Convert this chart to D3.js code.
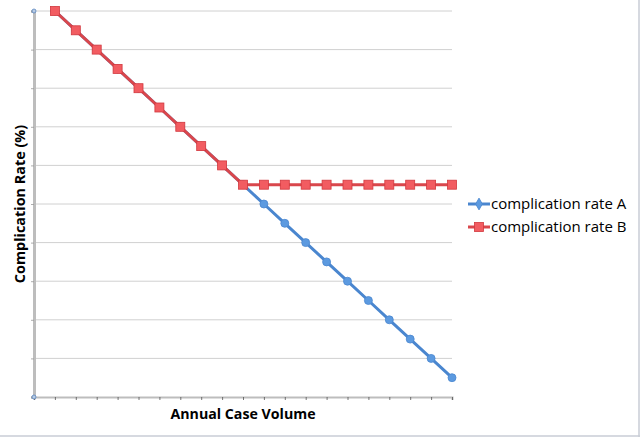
<!DOCTYPE html>
<html><head><meta charset="utf-8">
<script src="https://cdn.jsdelivr.net/npm/d3@7"></script>
<style>html,body{margin:0;padding:0;background:#fff;}svg{display:block;}</style>
</head><body>
<svg id="c" width="640" height="437"></svg>
<script>
const caseVolume = d3.range(1, 21);
const rateA = [10, 9.5, 9, 8.5, 8, 7.5, 7, 6.5, 6, 5.5, 5, 4.5, 4, 3.5, 3, 2.5, 2, 1.5, 1, 0.5];
const rateB = [10, 9.5, 9, 8.5, 8, 7.5, 7, 6.5, 6, 5.5, 5.5, 5.5, 5.5, 5.5, 5.5, 5.5, 5.5, 5.5, 5.5, 5.5];
const seriesNames = ["complication rate A", "complication rate B"];
const yTicks = d3.range(0, 11);
const xTicks = d3.range(0, 21);

const svg = d3.select("#c");
const x = d3.scaleLinear().domain([0, 20]).range([34, 452]);
const y = d3.scaleLinear().domain([0, 10]).range([397, 11]);
const font = "'Open Sans', 'Liberation Sans', sans-serif";

// border
svg.append("line").attr("x1",0).attr("x2",640).attr("y1",436).attr("y2",436).attr("stroke","#c9ccd6").attr("stroke-width",1.5);
svg.append("line").attr("x1",639).attr("x2",639).attr("y1",0).attr("y2",437).attr("stroke","#c9ccd6").attr("stroke-width",1.5);

// gridlines
svg.append("g").selectAll("line").data(yTicks.filter(d=>d>0)).join("line")
  .attr("x1", x(0)).attr("x2", x(20)).attr("y1", d=>y(d)).attr("y2", d=>y(d))
  .attr("stroke", "#d0d0d0").attr("stroke-width", 1);

// x axis
const xAxis = d3.axisBottom(x).tickValues(xTicks).tickSize(3).tickFormat("");
const gx = svg.append("g").attr("transform", `translate(0,${y(0)})`).call(xAxis);
gx.select(".domain").attr("stroke", "#bdbdbd").attr("stroke-width", 2);
gx.selectAll(".tick line").attr("stroke", "#555").attr("stroke-width", 0.8);

// y axis
const yAxis = d3.axisLeft(y).tickValues(yTicks).tickSize(3).tickFormat("");
const gy = svg.append("g").attr("transform", `translate(${x(0)},0)`).call(yAxis);
gy.select(".domain").attr("stroke", "#bdbdbd").attr("stroke-width", 3);
gy.selectAll(".tick line").attr("stroke", "#999").attr("stroke-width", 0.8);

// small corner markers
[[0,10],[0,0]].forEach(p=>{
  svg.append("circle").attr("cx", x(p[0])).attr("cy", y(p[1])).attr("r", 2)
    .attr("fill","#b7cbe4").attr("stroke","#5b87c0").attr("stroke-width",0.8);
});

const blue = "#4a86cf", blueM = "#5c9ae0", red = "#d9474c", redM = "#f25c61", redS = "#d2383e";
const line = d3.line().x((d,i)=>x(caseVolume[i])).y(d=>y(d));

// series A
svg.append("path").datum(rateA).attr("d", line).attr("fill","none")
  .attr("stroke", blue).attr("stroke-width", 3).attr("stroke-linejoin","round");
svg.append("g").selectAll("circle").data(rateA).join("circle")
  .attr("cx",(d,i)=>x(caseVolume[i])).attr("cy",d=>y(d)).attr("r",4)
  .attr("fill", blueM).attr("stroke", "#4a86cf").attr("stroke-width",0.8);

// series B
svg.append("path").datum(rateB).attr("d", line).attr("fill","none")
  .attr("stroke", red).attr("stroke-width", 3).attr("stroke-linejoin","round");
svg.append("g").selectAll("rect").data(rateB).join("rect")
  .attr("x",(d,i)=>x(caseVolume[i])-4.5).attr("y",d=>y(d)-4.5).attr("width",9).attr("height",9)
  .attr("fill", redM).attr("stroke", redS).attr("stroke-width",0.8);

// axis titles
svg.append("text").attr("x", 243).attr("y", 419).attr("text-anchor","middle")
  .attr("font-family", font).attr("font-weight","bold").attr("font-size", 14.2).attr("fill","#000")
  .text("Annual Case Volume");
svg.append("text").attr("transform","translate(25,204) rotate(-90)").attr("text-anchor","middle")
  .attr("font-family", font).attr("font-weight","bold").attr("font-size", 14.4).attr("fill","#000")
  .text("Complication Rate (%)");

// legend
const leg = svg.append("g");
const legY = [204, 227];
// A
leg.append("line").attr("x1",468).attr("x2",490).attr("y1",legY[0]).attr("y2",legY[0]).attr("stroke",blue).attr("stroke-width",3);
leg.append("path").attr("d", d3.symbol(d3.symbolDiamond, 40)()).attr("transform",`translate(479,${legY[0]})`)
  .attr("fill", blueM).attr("stroke", blue).attr("stroke-width",0.8);
// B
leg.append("line").attr("x1",468).attr("x2",490).attr("y1",legY[1]).attr("y2",legY[1]).attr("stroke",red).attr("stroke-width",3);
leg.append("rect").attr("x",474.5).attr("y",legY[1]-4.5).attr("width",9).attr("height",9)
  .attr("fill", redM).attr("stroke", redS).attr("stroke-width",0.8);
leg.selectAll("text").data(seriesNames).join("text")
  .attr("x", 491).attr("y",(d,i)=>legY[i]+5).attr("font-family", font).attr("font-size", 15).attr("fill","#000")
  .text(d=>d);
</script>
</body></html>
